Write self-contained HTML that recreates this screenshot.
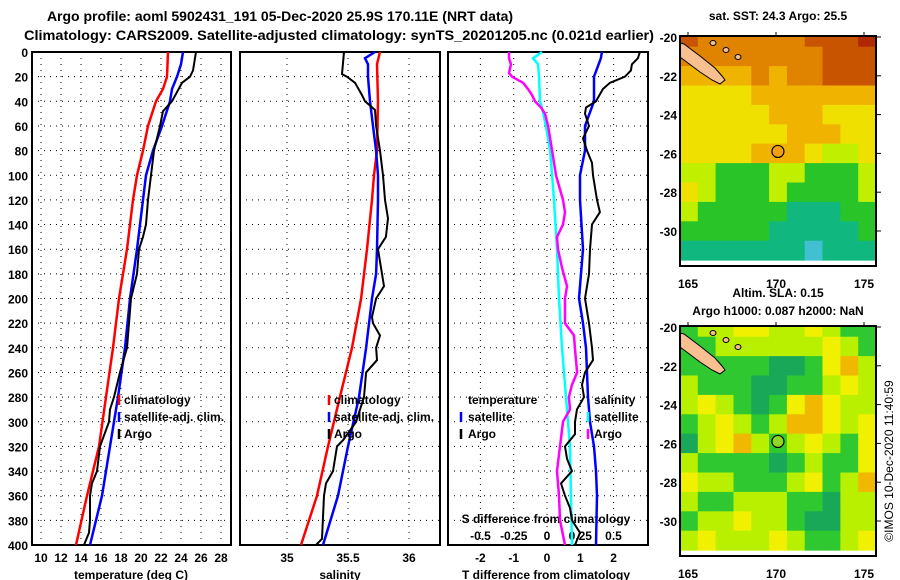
<!DOCTYPE html>
<html><head><meta charset="utf-8">
<style>
body{margin:0;background:#fff;}
svg{display:block;font-family:"Liberation Sans",Arial,sans-serif;}
.b{font-weight:bold;font-size:12px;fill:#000;}
.t{font-weight:bold;font-size:14px;fill:#000;}
</style></head><body>
<svg id="fig" width="900" height="580" viewBox="0 0 900 580" xmlns="http://www.w3.org/2000/svg">
<rect width="900" height="580" fill="#fff"/>
<text class="t" x="280" y="21" text-anchor="middle">Argo profile: aoml 5902431_191 05-Dec-2020 25.9S 170.11E (NRT data)</text>
<text class="t" x="24" y="40" textLength="630" lengthAdjust="spacingAndGlyphs">Climatology: CARS2009. Satellite-adjusted climatology: synTS_20201205.nc (0.021d earlier)</text>
<text class="b" x="778" y="20" text-anchor="middle">sat. SST: 24.3 Argo: 25.5</text>
<text class="b" x="778" y="297" text-anchor="middle">Altim. SLA: 0.15</text>
<text class="b" x="778" y="315" text-anchor="middle">Argo h1000: 0.087 h2000: NaN</text>
<text x="893" y="461" transform="rotate(-90 893 461)" text-anchor="middle" font-size="12">©IMOS 10-Dec-2020 11:40:59</text>
<g id="layer"></g>
</svg>
<script>
// ---- data ----
const depthTicks=[0,20,40,60,80,100,120,140,160,180,200,220,240,260,280,300,320,340,360,380,400];
const tTicks=[10,12,14,16,18,20,22,24,26,28];
const sTicks=[35,35.5,36];
const sTickLabels=["35","35.5","36"];
const dTTicks=[-2,-1,0,1,2];
const dSTicks=[-0.5,-0.25,0,0.25,0.5];
const dSTickLabels=["-0.5","-0.25","0","0.25","0.5"];

const climTDepth=[0,20,30,40,60,80,100,120,160,200,240,280,320,360,400];
const climT=[22.7,22.6,22.2,21.5,20.7,20.2,19.6,19.2,18.6,17.8,17.2,16.5,15.8,14.6,13.5];
const satTDepth=[0,10,20,30,40,60,80,100,120,160,200,240,280,320,360,400];
const satT=[24.2,24.0,23.6,23.1,22.9,22.1,21.2,20.5,20.2,19.6,18.9,18.4,17.7,16.9,16.1,14.9];
const argoTDepth=[0,15,20,25,40,48,60,70,80,100,120,140,150,160,180,200,220,240,260,280,290,300,320,340,350,360,380,390,400];
const argoT=[25.5,25.2,24.9,24.1,23.1,22.2,21.9,21.6,21.3,21.0,20.7,20.5,20.2,19.8,19.6,19.0,18.8,18.6,17.9,17.3,16.9,16.8,15.9,15.6,15.1,14.9,14.9,14.8,14.3];

const climSDepth=[0,10,40,80,100,120,160,200,240,280,320,360,400];
const climS=[35.762,35.738,35.746,35.738,35.713,35.697,35.656,35.607,35.533,35.434,35.336,35.246,35.115];
const satSDepth=[0,5,10,20,40,60,80,100,120,160,180,200,240,280,320,360,400];
const satS=[35.721,35.639,35.664,35.664,35.680,35.705,35.730,35.746,35.746,35.738,35.730,35.697,35.648,35.590,35.500,35.418,35.295];
const argoSDepth=[0,18,20,25,35,40,47,60,80,100,120,135,150,160,180,190,200,215,220,230,240,250,260,280,300,315,320,340,350,360,395,400];
const argoS=[35.467,35.451,35.492,35.557,35.615,35.639,35.721,35.730,35.762,35.787,35.803,35.828,35.811,35.746,35.779,35.795,35.730,35.697,35.705,35.762,35.730,35.738,35.648,35.631,35.566,35.459,35.410,35.377,35.320,35.303,35.287,35.238];

const satDTDepth=[0,5,20,40,60,80,100,120,160,200,220,240,260,280,300,320,340,360,400];
const satDT=[1.65,1.62,1.41,1.41,1.14,1.14,0.99,0.99,1.08,0.96,1.08,1.17,1.2,1.23,1.29,1.41,1.47,1.5,1.47];
const argoDTDepth=[0,5,10,15,20,25,30,40,45,50,60,70,80,90,100,120,130,140,160,180,200,220,240,250,260,270,280,290,300,310,320,330,340,350,360,370,380,390,400];
const argoDT=[2.79,2.73,2.55,2.52,2.34,1.89,1.68,1.47,1.17,1.14,1.26,1.08,1.2,1.35,1.38,1.5,1.59,1.35,1.29,1.26,1.14,1.26,1.35,1.38,1.14,1.05,1.11,0.9,0.84,0.84,0.54,0.6,0.75,0.42,0.54,0.69,0.75,0.99,0.84];
const satDSDepth=[0,5,10,20,40,45,60,80,100,120,160,200,240,280,300,320,360,400];
const satDS=[-0.038,-0.105,-0.068,-0.06,-0.053,-0.038,-0.008,0.023,0.038,0.053,0.075,0.09,0.113,0.143,0.158,0.173,0.18,0.188];
const argoDSDepth=[0,5,10,17,20,25,30,35,40,45,50,60,80,100,120,130,140,150,160,175,190,200,220,230,240,260,270,280,290,300,320,340,360,380,400];
const argoDS=[-0.286,-0.286,-0.271,-0.286,-0.263,-0.18,-0.143,-0.113,-0.09,-0.045,-0.015,0.008,0.038,0.068,0.12,0.135,0.12,0.075,0.083,0.113,0.15,0.135,0.135,0.203,0.21,0.226,0.188,0.165,0.173,0.12,0.098,0.075,0.09,0.098,0.135];

const mapLatTicks=[-20,-22,-24,-26,-28,-30];
const mapLonTicks=[165,170,175];
const sstGrid=[
[7,6,6,6,6,6,6,7,7,7,8],
[6,6,6,6,6,6,6,6,7,7,7],
[5,5,5,5,6,5,6,6,7,7,7],
[4,4,4,4,5,5,5,5,5,5,5],
[4,4,4,4,4,5,5,5,4,4,4],
[4,4,4,4,4,4,5,5,5,4,4],
[4,4,4,4,5,5,5,4,3,3,4],
[3,3,2,2,2,3,3,2,2,2,3],
[4,3,2,2,2,3,2,2,2,2,3],
[3,2,2,2,2,2,1,1,1,2,2],
[2,2,2,2,2,1,1,1,1,1,2],
[1,1,1,1,1,1,1,0,1,1,1]];
const slaGrid=[
[2,3,3,4,4,3,3,4,3,2,2],
[2,2,3,3,3,3,3,3,4,3,2],
[2,2,2,2,2,1,1,2,4,5,3],
[3,2,2,2,1,1,2,2,3,4,3],
[3,4,3,2,1,2,4,5,4,3,3],
[2,3,4,3,2,3,5,5,4,3,4],
[1,3,4,5,3,2,3,4,3,2,4],
[3,2,2,2,2,1,2,3,2,2,4],
[4,3,3,2,2,2,3,4,2,3,5],
[3,2,2,3,3,3,2,2,1,3,3],
[2,3,3,4,3,3,2,1,1,3,3],
[3,4,3,3,3,4,3,2,2,3,4]];
const sstColors=["#40c0d0","#10b880","#28c428","#c0f000","#f0e000","#f0b400","#e08400","#c85400","#b02800"];
const slaColors=["#10a070","#18a858","#30c830","#b8f000","#f0f000","#f0b800"];

// ---- helpers ----
const NS="http://www.w3.org/2000/svg";
const layer=document.getElementById('layer');
function mk(tag,attrs,parent){const e=document.createElementNS(NS,tag);for(const k in attrs)e.setAttribute(k,attrs[k]);(parent||layer).appendChild(e);return e;}
const Y0=52,Y1=545;
const yD=d=>Y0+(d/400)*(Y1-Y0);
const xT=v=>41+(v-10)*10;
const xS=v=>287+(v-35)*122;
const xDT=v=>547+v*33.3;
const xDS=v=>547+v*133;
const panels=[[32,231],[240,440],[448,648]];

function gridV(xs,x0,x1){xs.forEach(x=>{const l=mk('line',{x1:x,x2:x,y1:Y0,y2:Y1,stroke:'#000','stroke-width':1,'stroke-dasharray':'1,5'});});}
panels.forEach((p,i)=>{
  depthTicks.forEach(d=>{if(d===0||d===400)return;const l=mk('line',{x1:p[0],x2:p[1],y1:yD(d),y2:yD(d),stroke:'#000','stroke-width':1,'stroke-dasharray':'1,5'});
    });
});
gridV(tTicks.map(xT));gridV(sTicks.map(xS));gridV(dTTicks.map(xDT));
panels.forEach((p,i)=>{
  const r=mk('rect',{x:p[0],y:Y0,width:p[1]-p[0],height:Y1-Y0,fill:'none',stroke:'#000','stroke-width':2});
  
});
depthTicks.forEach(d=>{const t=mk('text',{x:28,y:yD(d)+5,'text-anchor':'end',class:'b'});t.textContent=d;
  });
function xlab(vals,labels,fx,y){vals.forEach((v,i)=>{const t=mk('text',{x:fx(v),y:y,'text-anchor':'middle',class:'b'});t.textContent=labels?labels[i]:v;
  });}
xlab(tTicks,null,xT,562);xlab(sTicks,sTickLabels,xS,562);xlab(dTTicks,null,xDT,562);xlab(dSTicks,dSTickLabels,xDS,540);
[['temperature (deg C)',131,579,'x-axis-title-temperature'],['salinity',340,579,'x-axis-title-salinity'],['T difference from climatology',546,579,'x-axis-title-t-difference'],['S difference from climatology',546,523,'x-axis-title-s-difference']].forEach(a=>{
  const t=mk('text',{x:a[1],y:a[2],'text-anchor':'middle',class:'b'});t.textContent=a[0];});

function line(ds,vs,fx,color,w,name){
  const pts=ds.map((d,i)=>fx(vs[i]).toFixed(1)+','+yD(d).toFixed(1)).join(' ');
  const l=mk('polyline',{points:pts,fill:'none',stroke:color,'stroke-width':w,'stroke-linejoin':'miter'});
  }
line(climTDepth,climT,xT,'#f00',2.5,'temperature-climatology-line');
line(satTDepth,satT,xT,'#00f',2.5,'temperature-satellite-line');
line(argoTDepth,argoT,xT,'#000',2,'temperature-argo-line');
line(climSDepth,climS,xS,'#f00',2.5,'salinity-climatology-line');
line(satSDepth,satS,xS,'#00f',2.5,'salinity-satellite-line');
line(argoSDepth,argoS,xS,'#000',2,'salinity-argo-line');
line(satDSDepth,satDS,xDS,'#0ff',2.5,'s-diff-satellite-line');
line(argoDSDepth,argoDS,xDS,'#f0f',2.5,'s-diff-argo-line');
line(satDTDepth,satDT,xDT,'#00f',2.5,'t-diff-satellite-line');
line(argoDTDepth,argoDT,xDT,'#000',2,'t-diff-argo-line');

function legend(mx,tx,items){items.forEach((it,i)=>{const y=401+i*17;
  if(it[1]){const m=mk('line',{x1:mx,x2:mx,y1:y-6,y2:y+4,stroke:it[1],'stroke-width':2.5});}
  const t=mk('text',{x:tx,y:y+3,class:'b'});t.textContent=it[0];});}
legend(119,124,[['climatology','#f00'],['satellite-adj. clim.','#00f'],['Argo','#000']]);
legend(329,334,[['climatology','#f00'],['satellite-adj. clim.','#00f'],['Argo','#000']]);
legend(461,468,[['temperature',null],['satellite','#00f'],['Argo','#000']]);
legend(588,594,[['salinity',null],['satellite','#0ff'],['Argo','#f0f']]);

// ---- maps ----
const MX0=680,MX1=876;
const lonX=l=>688+(l-165)*17.6;
function drawMap(top,bot,grid,cols,name,dotFill,lat20y){
  const g=mk('g',{});
  const latY=l=>lat20y+(-20-l)*19.4;
  const cw=(MX1-MX0)/grid[0].length;
  grid.forEach((row,r)=>row.forEach((v,c)=>{
    const y0=Math.max(top,latY(-19.5-r)),y1=Math.min(bot,latY(-20.5-r));
    const ce=mk('rect',{x:(MX0+c*cw).toFixed(1),y:y0.toFixed(1),width:(cw+0.5).toFixed(1),height:(y1-y0+0.5).toFixed(1),fill:cols[v]},g);
    
  }));
  const dy=lat20y-37;
  const nc=mk('polygon',{points:[[680,43],[684,44],[700,56],[715,68],[722,76],[725,80],[720,84],[712,80],[700,72],[688,63],[680,57]].map(p=>p[0]+','+(p[1]+dy)).join(' '),fill:'#f8c090',stroke:'#000','stroke-width':1},g);
  
  [[713,43],[726,50],[738,57]].forEach(p=>{const s=mk('ellipse',{cx:p[0],cy:p[1]+dy,rx:3,ry:2.5,fill:'#f8c090',stroke:'#000','stroke-width':1},g);});
  const dot=mk('circle',{cx:lonX(170.11),cy:latY(-25.9),r:6,fill:dotFill,stroke:'#000','stroke-width':1.2},g);
  
  const fr=mk('rect',{x:MX0,y:top,width:MX1-MX0,height:bot-top,fill:'none',stroke:'#000','stroke-width':2},g);
  
  mapLatTicks.forEach(l=>{const y=latY(l);if(y>bot)return;
    const t=mk('text',{x:677,y:y+5,'text-anchor':'end',class:'b'});t.textContent=l;
    const tk=mk('line',{x1:MX1,x2:MX1+5,y1:y,y2:y,stroke:'#000'});});
  mapLonTicks.forEach(l=>{const x=lonX(l);
    const t=mk('text',{x:x,y:bot+22,'text-anchor':'middle',class:'b'});t.textContent=l;
    const tk=mk('line',{x1:x,x2:x,y1:top-4,y2:top,stroke:'#000'});});
}
drawMap(36,266,sstGrid,sstColors,'sst-map','#f0a010',37);
drawMap(326,556,slaGrid,slaColors,'sla-map','#90d820',327);
</script>
</body></html>
